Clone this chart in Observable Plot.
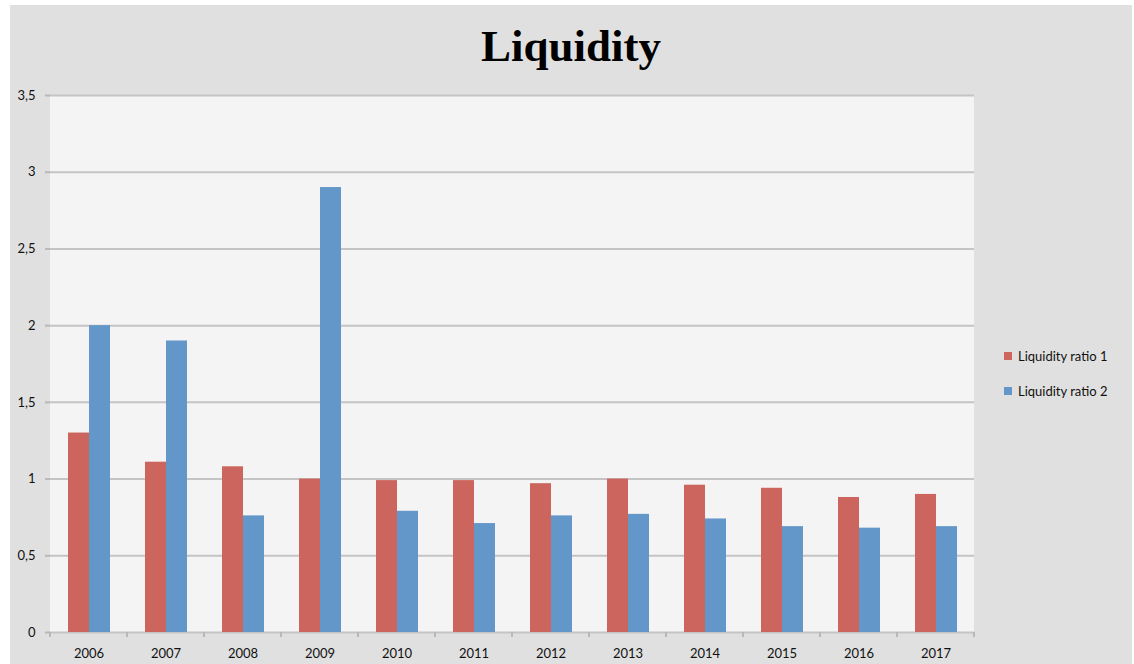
<!DOCTYPE html>
<html>
<head>
<meta charset="utf-8">
<script src="https://cdn.jsdelivr.net/npm/d3@7"></script>
<script src="https://cdn.jsdelivr.net/npm/@observablehq/plot@0.6"></script>
<style>
  body { margin: 0; background: #ffffff; }
  #wrap { position: relative; width: 1134px; height: 664px; overflow: hidden; }
  #bg { position: absolute; left: 10px; top: 5px; width: 1122px; height: 659px; background: #e0e0e0; }
  #plotbg { position: absolute; background: #f4f4f4; }
  #title { position: absolute; left: 10px; width: 1122px; top: 24px; text-align: center;
           font: bold 45px/45px "Liberation Serif", "Times New Roman", serif; color: #000; }
  #chart { position: absolute; left: 0; top: 0; }
  #legend { position: absolute; left: 1004px; top: 338px; font: 13px "Lato", sans-serif; color: #111; }
  .row { display: flex; align-items: center; height: 35px; white-space: nowrap; }
  .sw { width: 8px; height: 8px; margin-right: 6px; }
</style>
</head>
<body>
<div id="wrap">
  <div id="bg"></div>
  <div id="plotbg"></div>
  <div id="title">Liquidity</div>
  <div id="chart"></div>
  <div id="legend"></div>
</div>
<script>
const years = ["2006","2007","2008","2009","2010","2011","2012","2013","2014","2015","2016","2017"];
const series = ["Liquidity ratio 1", "Liquidity ratio 2"];
const ratio1 = [1.30, 1.11, 1.08, 1.00, 0.99, 0.99, 0.97, 1.00, 0.96, 0.94, 0.88, 0.90];
const ratio2 = [2.00, 1.90, 0.76, 2.90, 0.79, 0.71, 0.76, 0.77, 0.74, 0.69, 0.68, 0.69];
const yTicks = [0, 0.5, 1, 1.5, 2, 2.5, 3, 3.5];
const colors = ["#cc655e", "#6396c9"];

const data = years.flatMap((year, i) => [
  {year, series: series[0], value: ratio1[i]},
  {year, series: series[1], value: ratio2[i]}
]);

const plot = Plot.plot({
  width: 1134,
  height: 664,
  marginLeft: 50,
  marginRight: 160,
  marginTop: 95,
  marginBottom: 32,
  style: {background: "transparent", fontFamily: "Lato, sans-serif", fontSize: "13px", color: "#111"},
  fx: {domain: years, padding: 0, label: null},
  x: {domain: series, paddingInner: 0, paddingOuter: 0.77, axis: null},
  y: {domain: [0, 3.5], label: null},
  color: {domain: series, range: colors},
  marks: [
    Plot.gridY(yTicks, {stroke: "#c4c4c4", strokeOpacity: 1, strokeWidth: 2}),
    Plot.barY(data, {fx: "year", x: "series", y: "value", fill: "series"}),
    Plot.axisY({
      ticks: yTicks,
      tickFormat: d => String(d).replace(".", ","),
      tickSize: 5,
      tickPadding: 10,
      stroke: "#b8b8b8",
      strokeWidth: 2,
      line: true,
      label: null
    }),
    Plot.axisFx({anchor: "bottom", tickSize: 0, tickPadding: 16, label: null})
  ]
});

// plot-area background and category boundary ticks, placed via Plot's scales
const fxs = plot.scale("fx");
const ys = plot.scale("y");
const yb = ys.apply(0);
const yt = ys.apply(3.5);
const x0 = fxs.apply(years[0]);
const x1 = fxs.apply(years[years.length - 1]) + fxs.bandwidth;
d3.select("#plotbg")
  .style("left", x0 + "px").style("top", yt + "px")
  .style("width", (x1 - x0) + "px").style("height", (yb - yt) + "px");

const bounds = years.map(y => fxs.apply(y)).concat([x1]);
d3.select(plot).append("g")
  .attr("stroke", "#b8b8b8")
  .attr("stroke-width", 2)
  .selectAll("line")
  .data(bounds)
  .join("line")
  .attr("x1", d => d).attr("x2", d => d)
  .attr("y1", yb).attr("y2", yb + 5);

document.getElementById("chart").appendChild(plot);

const legend = d3.select("#legend");
series.forEach((s, i) => {
  const row = legend.append("div").attr("class", "row");
  row.append("div").attr("class", "sw").style("background", colors[i]);
  row.append("span").text(s);
});
</script>
</body>
</html>
